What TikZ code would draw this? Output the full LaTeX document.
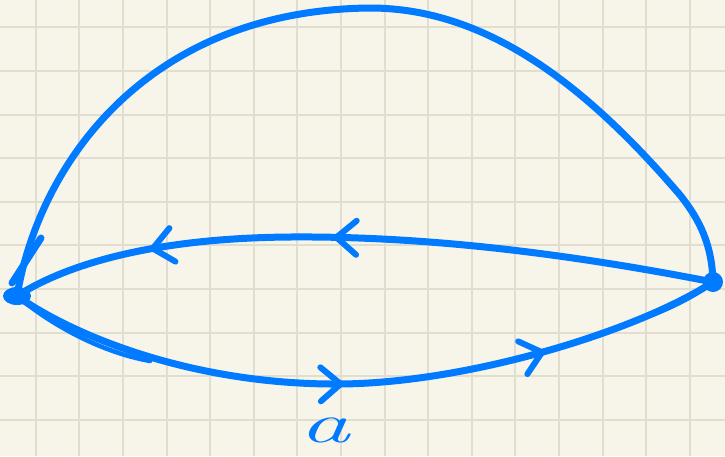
\documentclass[tikz,border=0pt]{standalone}
\usepackage{graphicx}
\usetikzlibrary{arrows.meta,decorations.markings}
\definecolor{paper}{RGB}{247,245,234}
\definecolor{gridc}{RGB}{225,222,208}
\definecolor{ink}{RGB}{0,122,255}
\begin{document}
\begin{tikzpicture}[x=1pt, y=-1pt,
        gridline/.style={draw=gridc, line width=2pt},
        stroke/.style={draw=ink, line width=7pt, line cap=round, line join=round},
        thin stroke/.style={draw=ink, line width=4.5pt, line cap=round},
        dot/.style={circle, fill=ink, inner sep=0pt, minimum size=#1},
        tips/.style 2 args={postaction={decorate, decoration={markings,
            mark=at position #1 with {\arrow[ink]{Straight Barb[length=20pt, width=34pt, round, line width=6pt]}},
            mark=at position #2 with {\arrow[ink]{Straight Barb[length=20pt, width=34pt, round, line width=6pt]}}}}},
        lbl/.style={text=ink, inner sep=0pt, font=\fontsize{56}{56}\selectfont\itshape},
    ]
        % Paper and grid
        \fill[paper] (0,0) rectangle (725,456);
        \useasboundingbox (0,0) rectangle (725,456);
        \foreach \gx in {0,...,15}
            \draw[gridline] (35.7+43.6*\gx,0) -- (35.7+43.6*\gx,456);
        \foreach \gy in {0,...,9}
            \draw[gridline] (0,27.3+43.6*\gy) -- (725,27.3+43.6*\gy);

        % End points
        \node[dot=16pt] (L) at (17,296) {};
        \node[dot=20pt] (R) at (713,282) {};
        \fill[ink] (L.center) ellipse (14pt and 9pt);

        % Upper arc
        \draw[stroke] (L.center) .. controls (40,160) and (150,10) .. (370,8)
            .. controls (490,8) and (590,90) .. (680,195)
            .. controls (700,220) and (712,245) .. (R.center);
        \draw[stroke] (41,238) -- (12,283);

        % Middle curve, right to left
        \draw[stroke, tips={0.54}{0.8}] (R.center) .. controls (560,252) and (420,236) .. (290,237)
            .. controls (160,238) and (70,262) .. (L.center);

        % Lower curve, left to right
        \draw[stroke, tips={0.47}{0.75}] (L.center) .. controls (80,340) and (200,385) .. (340,384)
            .. controls (470,383) and (640,330) .. (R.center);
        \draw[thin stroke] (L.center) .. controls (50,324) and (100,352) .. (150,361);
        \draw[thin stroke] (632,322) .. controls (660,313) and (690,300) .. (R.center);

        % Label
        \node[lbl] (a) at (325,430) {\scalebox{1.8}[1]{a}};
    \end{tikzpicture}
\end{document}
